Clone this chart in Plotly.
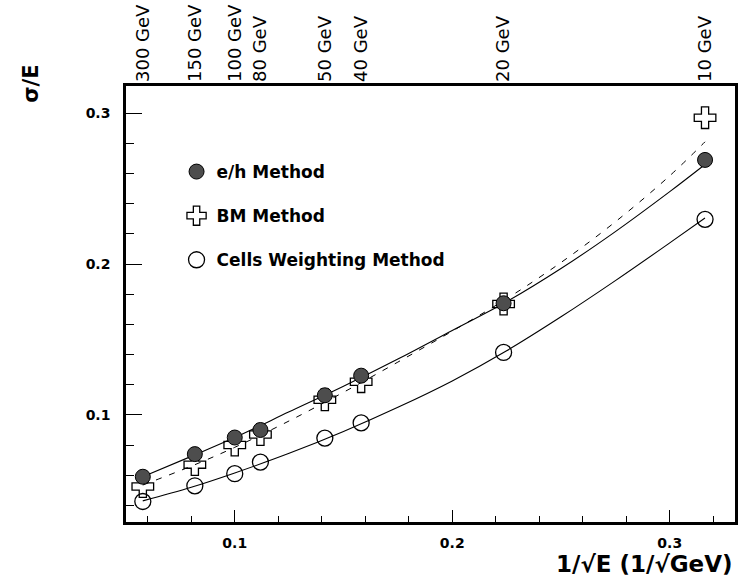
import numpy as np
import plotly.graph_objects as go

# ---- data ----
energy_gev = [300, 150, 100, 80, 50, 40, 20, 10]
top_tick_labels = ["300 GeV", "150 GeV", "100 GeV", "80 GeV", "50 GeV", "40 GeV", "20 GeV", "10 GeV"]
eh_method = [0.059, 0.074, 0.085, 0.090, 0.113, 0.126, 0.174, 0.269]
bm_method = [0.0525, 0.067, 0.080, 0.087, 0.110, 0.122, 0.1735, 0.297]
cells_method = [0.0426, 0.053, 0.061, 0.0687, 0.0846, 0.0947, 0.1414, 0.2296]

# fitted curves
fit_x = [0.0577, 0.08, 0.10, 0.125, 0.15, 0.175, 0.20, 0.225, 0.25, 0.275, 0.30, 0.3162]
eh_fit = [0.059, 0.0725, 0.085, 0.102, 0.119, 0.137, 0.156, 0.175, 0.197, 0.2215, 0.248, 0.266]
bm_fit = [0.0535, 0.066, 0.0785, 0.096, 0.115, 0.135, 0.1555, 0.177, 0.201, 0.228, 0.2585, 0.281]
cells_fit = [0.043, 0.052, 0.0615, 0.0745, 0.089, 0.105, 0.1225, 0.1425, 0.165, 0.189, 0.214, 0.2305]

x_vals = [1.0 / np.sqrt(e) for e in energy_gev]

FONT = "DejaVu Sans"
BOLD = "DejaVu Sans, Arial Black, sans-serif"

fig = go.Figure()

# fit curves
fig.add_trace(go.Scatter(x=fit_x, y=cells_fit, mode="lines", showlegend=False, hoverinfo="skip",
                         line=dict(color="black", width=1.1, shape="spline")))
fig.add_trace(go.Scatter(x=fit_x, y=bm_fit, mode="lines", showlegend=False, hoverinfo="skip",
                         line=dict(color="black", width=1.0, shape="spline", dash="6px,8px")))
fig.add_trace(go.Scatter(x=fit_x, y=eh_fit, mode="lines", showlegend=False, hoverinfo="skip",
                         line=dict(color="black", width=1.1, shape="spline")))

# data points
fig.add_trace(go.Scatter(x=x_vals, y=bm_method, mode="markers", name="BM Method",
                         legendgroup="b", legendrank=2,
                         marker=dict(symbol="cross-open", size=18, color="black",
                                     line=dict(color="black", width=1.3))))
fig.add_trace(go.Scatter(x=x_vals, y=eh_method, mode="markers", name="e/h Method",
                         legendgroup="a", legendrank=1,
                         marker=dict(symbol="circle", size=15, color="#4d4d4d",
                                     line=dict(color="black", width=1))))
fig.add_trace(go.Scatter(x=x_vals, y=cells_method, mode="markers", name="Cells Weighting Method",
                         legendgroup="c", legendrank=3,
                         marker=dict(symbol="circle-open", size=16, color="black",
                                     line=dict(color="black", width=1.3))))

# invisible trace to activate the top (energy) axis
fig.add_trace(go.Scatter(x=x_vals, y=eh_method, xaxis="x2", mode="markers", showlegend=False,
                         hoverinfo="skip", marker=dict(opacity=0)))

fig.update_layout(
    width=742, height=578,
    margin=dict(l=126, r=7, t=86, b=56, autoexpand=False),
    paper_bgcolor="white", plot_bgcolor="white",
    showlegend=True,
    legend=dict(x=0.083, y=0.844, xanchor="left", yanchor="top",
                traceorder="grouped", tracegroupgap=19,
                font=dict(family=BOLD, size=17, color="black", weight="bold"),
                bgcolor="rgba(0,0,0,0)", borderwidth=0),
    xaxis=dict(range=[0.05, 0.33], tick0=0, dtick=0.1, tickformat=".1f", automargin=False,
               ticks="inside", ticklen=12, tickwidth=1.2, tickcolor="black",
               minor=dict(dtick=0.02, tick0=0, ticks="inside", ticklen=6, tickwidth=1.2, tickcolor="black"),
               showline=True, linewidth=2.5, linecolor="black", mirror=True,
               showgrid=False, zeroline=False, ticklabelstandoff=6,
               tickfont=dict(family=BOLD, size=14, color="black", weight="bold")),
    xaxis2=dict(overlaying="x", side="top", range=[0.05, 0.33], automargin=False,
                tickmode="array", tickvals=x_vals, ticktext=top_tick_labels,
                tickangle=-90, ticks="", showgrid=False, zeroline=False, showline=False,
                ticklabelstandoff=3,
                tickfont=dict(family=FONT, size=18, color="black")),
    yaxis=dict(range=[0.029, 0.318], tick0=0, dtick=0.1, tickformat=".1f", automargin=False,
               ticks="inside", ticklen=16, tickwidth=1.2, tickcolor="black",
               minor=dict(dtick=0.02, tick0=0, ticks="inside", ticklen=8, tickwidth=1.2, tickcolor="black"),
               showline=True, linewidth=2.5, linecolor="black", mirror=True,
               showgrid=False, zeroline=False, ticklabelstandoff=10,
               tickfont=dict(family=BOLD, size=14, color="black", weight="bold")),
    annotations=[
        dict(text="σ/E", xref="paper", yref="paper", x=-0.156, y=1.005,
             xanchor="center", yanchor="middle", textangle=-90, showarrow=False,
             font=dict(family=BOLD, size=21, color="black", weight="bold")),
        dict(text="1/√E (1/√GeV)", xref="paper", yref="paper", x=1.0, y=-0.096,
             xanchor="right", yanchor="middle", showarrow=False,
             font=dict(family=BOLD, size=23, color="black", weight="bold")),
    ],
)

fig.write_html("out.html", config={"displayModeBar": False},
               post_script="document.body.style.margin='0';document.body.style.padding='0';")
